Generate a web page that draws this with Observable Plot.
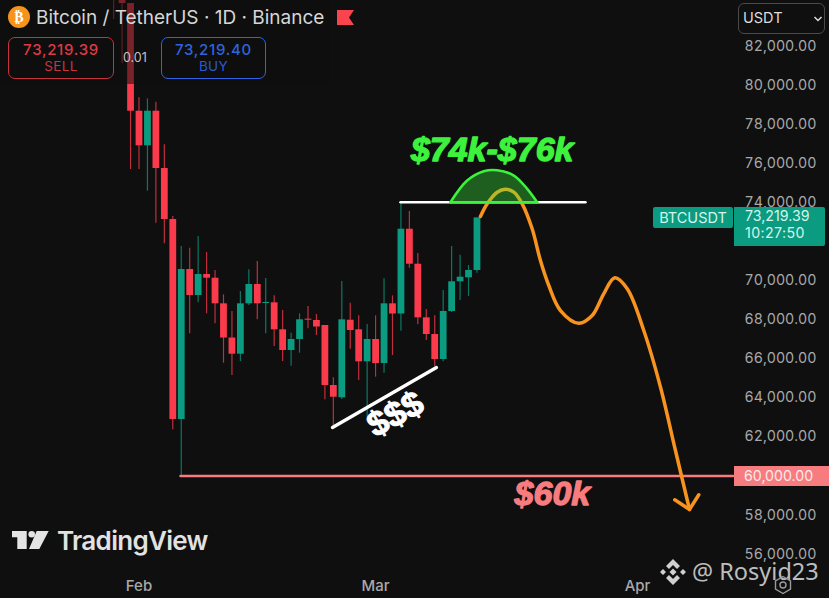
<!DOCTYPE html>
<html><head><meta charset="utf-8">
<script src="https://cdn.jsdelivr.net/npm/d3@7"></script>
<script src="https://cdn.jsdelivr.net/npm/@observablehq/plot@0.6"></script>
<style>
html,body{margin:0;padding:0;background:#0f0f0f;overflow:hidden}
#wrap{position:relative;width:829px;height:598px;overflow:hidden;font-family:Inter,sans-serif}
#wrap svg{display:block}
.ab{position:absolute;white-space:nowrap;box-sizing:border-box}
.ctr{display:flex;align-items:center;justify-content:center}
</style></head><body>
<div id="wrap"></div>
<script>
// Daily candles; day 0 = 1 Feb 2026, the first candle is day -3
const firstDay = -3;
const opens  = [86000,85000,84203,78685,76913,78685,75750,73137,62891,70576,69244,70320,70130,68818,67066,66237,68818,69807,68834,68870,67487,66426,66990,68030,67963,67707,64633,64003,67978,67487,65847,66990,65760,68818,68296,72640,70847,68101,67246,65965,68424,69946,70150,70524];
const closes = [85000,84203,78685,76913,78685,75750,73137,62891,70576,69244,70320,70130,68818,67066,66237,68818,69807,68818,68885,67487,66426,66990,67999,67978,67630,64633,64034,67999,67451,65847,66990,65760,68818,68296,72640,70847,68101,67246,65965,68424,69946,70181,70524,73219];
const highs  = [87000,85000,84203,79372,79321,79146,76964,73291,71754,71667,72266,71447,70524,69280,68424,69449,70560,70986,70115,69228,68475,67312,68306,68680,68270,67707,65027,69961,68849,68204,67758,68204,70099,69228,74023,73547,71395,68527,68204,69500,71754,71308,70781,73219];
const lows   = [83383,81129,75699,75699,74587,72948,71892,62363,60000,67282,68870,68306,67794,65775,65145,65863,68731,67999,67282,66631,65863,65622,66288,67538,67195,63900,62584,63916,66493,64889,63009,65058,65263,66170,67415,70642,67743,66938,65606,65847,68373,68988,69192,70386];

const priceTicks = [82000,80000,78000,76000,74000,70000,68000,66000,64000,62000,58000,56000];
const monthTicks = [0,28,59];

// Hand-drawn annotations, in days and prices
const forecastDays   = [40.41,41.21,42.39,43.37,44.36,45.35,46.53,47.51,48.50,49.88,52.05,53.63,55.0,56.31,57.78,59.74,61.72,63.49,65.15];
const forecastPrices = [73291,73942,74536,74689,74536,73942,72661,71037,69756,68475,67825,68219,69331,70150,69587,67451,64546,61303,58280];
const arrowDays   = [63.41,65.15,66.25];
const arrowPrices = [58777,58280,59034];
const domeDays   = [36.86,38.84,40.80,42.39,44.36,45.94,47.12];
const domePrices = [74024,75135,75612,75663,75391,74710,74024];
const resistanceDays = [30.95,52.84];
const resistancePrice = 74024;
const trendDays   = [22.9,35.2];
const trendPrices = [62481,65555];
const supportDays = [4.91,70.3];
const supportPrice = 60000;

const bgColor = "#0f0f0f", up = "#0a9b80", down = "#fb3a4c", orange = "#f7931e", limeGreen = "#3df23d", salmon = "#f77c80";

const dayMs = 864e5, base = Date.UTC(2026,1,1);
const toDate = d => new Date(base + d*dayMs);
const candles = opens.map((o,i)=>({date:toDate(firstDay+i),open:o,close:closes[i],high:highs[i],low:lows[i],color:closes[i]>=o?up:down}));
const pts = (ds,ps)=>ds.map((d,i)=>({date:toDate(d),price:ps[i]}));
const forecast = pts(forecastDays,forecastPrices);
const arrow = pts(arrowDays,arrowPrices);
const dome = pts(domeDays,domePrices);
const bigText = {x:"date",y:"price",text:"t",fontFamily:"Liberation Sans",fontStyle:"italic",fontWeight:700};

const chart = Plot.plot({
  width:829,height:598,marginLeft:0,marginRight:97,marginTop:0,marginBottom:24,
  style:{background:bgColor,color:"#a9a9a9",fontFamily:"Inter, sans-serif"},
  x:{type:"utc",domain:[toDate(-16.39),toDate(70.24)]},
  y:{domain:[54951,84357]},
  marks:[
    Plot.axisY(priceTicks,{anchor:"right",tickSize:0,tickPadding:12,label:null,fontSize:14.2,fill:"#a9a9a9",tickFormat:d=>d3.format(",.2f")(d)}),
    Plot.axisX(monthTicks.map(toDate),{anchor:"bottom",tickSize:0,tickPadding:6,label:null,fontSize:15,fontWeight:500,fill:"#a9a9a9",tickFormat:d3.utcFormat("%b")}),
    Plot.ruleX(candles,{x:"date",y1:"low",y2:"high",stroke:"color",strokeWidth:1.2,strokeOpacity:.75,clip:true}),
    Plot.ruleX(candles,{x:"date",y1:"open",y2:"close",stroke:"color",strokeWidth:6.8,clip:true}),
    Plot.line(pts(supportDays,[supportPrice,supportPrice]),{x:"date",y:"price",stroke:salmon,strokeWidth:2.5}),
    Plot.line(pts(resistanceDays,[resistancePrice,resistancePrice]),{x:"date",y:"price",stroke:"#fff",strokeWidth:2.5}),
    Plot.line(pts(trendDays,trendPrices),{x:"date",y:"price",stroke:"#fff",strokeWidth:3.4}),
    Plot.line(forecast,{x:"date",y:"price",stroke:orange,strokeWidth:3.5,curve:"catmull-rom"}),
    Plot.line(arrow,{x:"date",y:"price",stroke:orange,strokeWidth:3.5}),
    Plot.areaY(dome,{x:"date",y1:resistancePrice,y2:"price",fill:"#3dff3d",fillOpacity:.33,curve:"catmull-rom"}),
    Plot.line(dome,{x:"date",y:"price",stroke:limeGreen,strokeWidth:2.6,curve:"catmull-rom"}),
    Plot.line([dome[0],dome[dome.length-1]],{x:"date",y:"price",stroke:limeGreen,strokeWidth:2.6}),
    Plot.text([{date:toDate(41.8),price:76672,t:"$74k-$76k"}],{...bigText,fill:limeGreen,stroke:limeGreen,strokeWidth:1.3,fontSize:34}),
    Plot.text([{date:toDate(48.93),price:59049,t:"$60k"}],{...bigText,fill:salmon,stroke:salmon,strokeWidth:1.3,fontSize:34}),
    Plot.text([{date:toDate(30.36),price:63150,t:"$$$"}],{x:"date",y:"price",text:"t",rotate:-28,fill:"#fff",stroke:"#fff",strokeWidth:.9,fontFamily:"Liberation Sans",fontWeight:700,fontSize:35})
  ]
});
const wrap = document.getElementById("wrap");
wrap.appendChild(chart);

const overlay = document.createElement("div");
overlay.innerHTML = `
<div class="ab" style="left:0;top:0;width:330px;height:84px;background:rgba(15,15,15,.55)"></div>
<div class="ab ctr" style="left:8px;top:6px;width:22px;height:22px;border-radius:50%;background:#f7931a;color:#fff;font:700 14px 'DejaVu Sans';">₿</div>
<div class="ab" style="left:36px;top:6px;font:400 19px/24px Inter;color:#d6d6d6">Bitcoin / TetherUS · 1D · Binance</div>
<svg class="ab" style="left:337px;top:10px" width="17" height="15"><path d="M0 0H17L12 7.5L17 15H0Z" fill="#f9444f"/></svg>
<div class="ab" style="left:8px;top:37px;width:106px;height:42px;border:1.5px solid #c8323c;border-radius:7px"></div>
<div class="ab" style="left:8px;top:41px;width:106px;text-align:center;font:500 15px/18px Inter;letter-spacing:.7px;color:#df3945">73,219.39</div>
<div class="ab" style="left:8px;top:58px;width:106px;text-align:center;font:400 13.5px/17px Inter;letter-spacing:.4px;color:#c93440">SELL</div>
<div class="ab" style="left:161px;top:37px;width:105px;height:42px;border:1.5px solid #2f63e6;border-radius:7px"></div>
<div class="ab" style="left:161px;top:41px;width:105px;text-align:center;font:500 15px/18px Inter;letter-spacing:.7px;color:#2f63dd">73,219.40</div>
<div class="ab" style="left:161px;top:58px;width:105px;text-align:center;font:400 13.5px/17px Inter;letter-spacing:.4px;color:#2a5bd0">BUY</div>
<div class="ab" style="left:123px;top:50px;font:400 12.5px/16px Inter;color:#c4c4c4">0.01</div>

<div class="ab" style="left:738px;top:3px;width:87px;height:31px;border:1.5px solid #4a4a4a;border-radius:6px"></div>
<div class="ab" style="left:743px;top:9px;font:400 14.5px/18px Inter;color:#dcdcdc">USDT</div>
<svg class="ab" style="left:813px;top:15px" width="10" height="8"><path d="M1.5 2L5 5.5L8.5 2" stroke="#dcdcdc" stroke-width="1.5" fill="none"/></svg>

<div class="ab ctr" style="left:653px;top:207px;width:80px;height:21px;background:#0a9b80;border-radius:2px;font:400 14.5px Inter;color:#d5f5ec">BTCUSDT</div>
<div class="ab" style="left:734px;top:207px;width:91px;height:39px;background:#0a9b80;border-radius:0 2px 2px 0"></div>
<div class="ab" style="left:745px;top:207px;font:400 14.2px/18px Inter;color:#d5f5ec">73,219.39</div>
<div class="ab" style="left:745px;top:224px;font:400 14.2px/18px Inter;letter-spacing:.4px;color:#d5f5ec">10:27:50</div>

<div class="ab" style="left:734px;top:466px;width:95px;height:20px;background:#f77c80"></div>
<div class="ab" style="left:744px;top:467px;font:400 14.2px/18px Inter;color:#fde9e9">60,000.00</div>

<svg class="ab" style="left:10px;top:529px" width="40" height="22" fill="#e4e4e4"><path d="M2 2H16.7V20H7.3V8.3H2Z"/><circle cx="21.7" cy="5.3" r="3.3"/><path d="M26.7 2H38.7L29.3 20H19Z"/></svg>
<div class="ab" style="left:57px;top:525px;font:600 26px/32px Inter;letter-spacing:-.7px;color:#e2e2e2">TradingView</div>

<svg class="ab" style="left:659px;top:558px" width="28" height="28" viewBox="0 0 28 28" fill="#d0d0d0"><path d="M14 1L21 8L18 11L14 7L10 11L7 8Z M14 27L7 20L10 17L14 21L18 17L21 20Z M1 14L4 11L7 14L4 17Z M27 14L24 11L21 14L24 17Z M14 10.5L17.5 14L14 17.5L10.5 14Z"/></svg>
<div class="ab" style="left:692px;top:556px;font:400 23.5px/30px 'Noto Sans';color:#bdbdbd">@ Rosyid23</div>
<svg class="ab" style="left:773px;top:575px" width="20" height="20"><path d="M10 1.5L17.5 6V14L10 18.5L2.5 14V6Z" fill="none" stroke="#9a9a9a" stroke-width="1.4"/><circle cx="10" cy="10" r="3" fill="none" stroke="#9a9a9a" stroke-width="1.4"/></svg>
`;
while (overlay.firstElementChild) wrap.appendChild(overlay.firstElementChild);
</script>
</body></html>
